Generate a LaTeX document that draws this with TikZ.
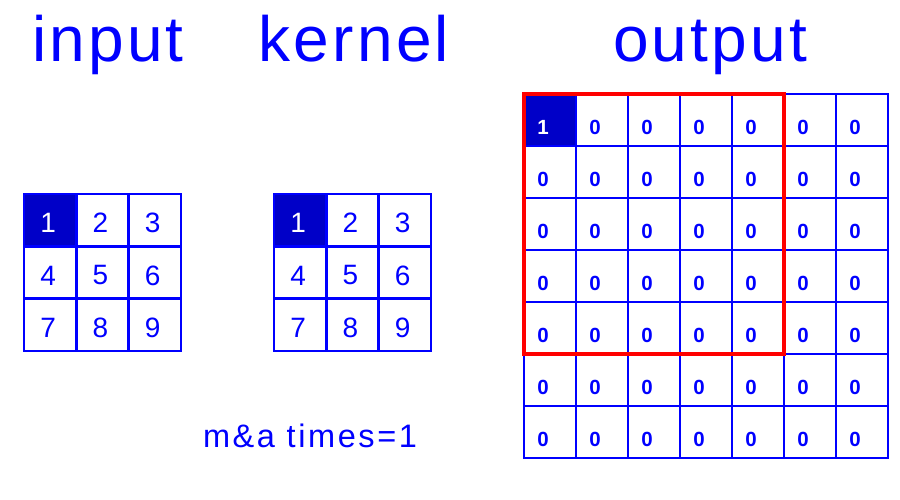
\documentclass[tikz,border=0pt]{standalone}
\usepackage{fontspec}
\setmainfont{Liberation Sans}
\newfontfamily\spacedfont[LetterSpace=5]{Liberation Sans}
\newfontfamily\notefont[LetterSpace=8]{Liberation Sans}
\definecolor{gblue}{RGB}{0,0,255}
\definecolor{gdark}{RGB}{0,0,200}
\definecolor{gred}{RGB}{255,0,0}
\tikzset{
  cell/.style={draw=gblue, line width=2.6pt, minimum size=52.3pt, inner sep=0pt, anchor=center},
  hot/.style={cell, fill=gdark},
  digit/.style={text=gblue, font=\fontsize{28}{28}\selectfont, inner sep=0pt},
  hotdigit/.style={digit, text=white},
  zero/.style={text=gblue, font=\fontsize{20.5}{20.5}\selectfont\bfseries, inner sep=0pt},
  hotzero/.style={zero, text=white},
  title/.style={text=gblue, font=\spacedfont\fontsize{64}{64}\selectfont, anchor=base, inner sep=0pt},
  note/.style={text=gblue, font=\notefont\fontsize{32.5}{32.5}\selectfont, anchor=base, inner sep=0pt},
  window/.style={draw=gred, line width=4.5pt}
}
\begin{document}
\begin{tikzpicture}[x=1pt,y=-1pt]
\useasboundingbox (0,0) rectangle (900,500);
% titles
\node[title] (tin) at (108,62) {input};
\node[title] (tker) at (354,62) {kernel};
\node[title] (tout) at (710,62) {output};
% input and kernel grids
\foreach \g/\x in {in/24, ker/274} {
  \foreach \r in {1,2,3} {
    \foreach \c in {1,2,3} {
      \pgfmathtruncatemacro{\v}{(\r-1)*3+\c}
      \ifnum\v=1
        \node[hot] (\g-\r-\c) at ({\x+52.3*(\c-0.5)},{194+52.3*(\r-0.5)}) {};
        \node[hotdigit] (\g-t-\r-\c) at ([xshift=-2pt,yshift=-3pt]\g-\r-\c.center) {\v};
      \else
        \node[cell] (\g-\r-\c) at ({\x+52.3*(\c-0.5)},{194+52.3*(\r-0.5)}) {};
        \node[digit] (\g-t-\r-\c) at ([xshift=-2pt,yshift=-3pt]\g-\r-\c.center) {\v};
      \fi
    }
  }
}
% output grid
\foreach \r in {1,...,7} {
  \foreach \c in {1,...,7} {
    \pgfmathtruncatemacro{\v}{(\r==1 && \c==1) ? 1 : 0}
    \ifnum\v=1
      \node[hot] (o-\r-\c) at ({524+52*(\c-0.5)},{94+52*(\r-0.5)}) {};
      \node[hotzero] (o-t-\r-\c) at ([xshift=-7pt,yshift=-7pt]o-\r-\c.center) {1};
    \else
      \node[cell] (o-\r-\c) at ({524+52*(\c-0.5)},{94+52*(\r-0.5)}) {};
      \node[zero] (o-t-\r-\c) at ([xshift=-7pt,yshift=-7pt]o-\r-\c.center) {0};
    \fi
  }
}
% sliding window
\draw[window] ([xshift=1.3pt,yshift=-1.3pt]o-1-1.north west) rectangle ([xshift=-1.3pt,yshift=1.3pt]o-5-5.south east);
% note
\node[note] (times) at (310,447) {m\&a times=1};
\end{tikzpicture}
\end{document}
